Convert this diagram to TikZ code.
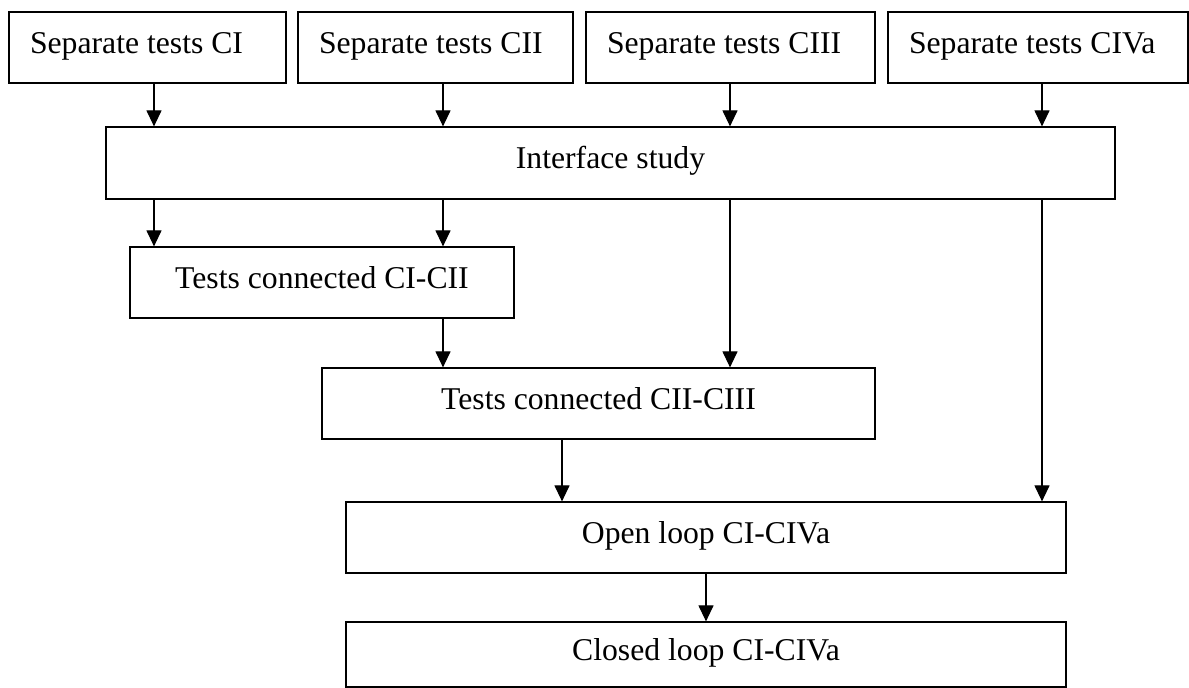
\documentclass[tikz,border=0pt]{standalone}
\usepackage{fontspec}
\setmainfont{Liberation Serif}
\usetikzlibrary{arrows.meta}

\begin{document}
\begin{tikzpicture}[
    x=0.5pt, y=-0.5pt,
    stagebox/.style={rectangle, draw, line width=0.6pt, inner sep=0pt, minimum height=35.5pt, text height=10.8pt, text depth=5.2pt, font=\fontsize{15.85}{19}\selectfont},
    testbox/.style={stagebox, align=flush left, inner xsep=10.5pt, text width=#1},
    flow/.style={-{Triangle[length=8pt, width=7.5pt]}, line width=0.6pt}
]
    \useasboundingbox (0,0) rectangle (1189,688);

    % Separate tests row
    \node[testbox=117.5pt] (sepA) at (147.5, 47.5) {Separate tests CI};
    \node[testbox=116.5pt] (sepB) at (435.5, 47.5) {Separate tests CII};
    \node[testbox=123.5pt] (sepC) at (730.5, 47.5) {Separate tests CIII};
    \node[testbox=129pt] (sepD) at (1038, 47.5) {Separate tests CIVa};

    % Interface study
    \node[stagebox, minimum width=504.5pt, minimum height=36pt] (iface) at (610.5, 163) {Interface study};

    % Connected tests
    \node[stagebox, minimum width=192pt] (conA) at (322, 282.5) {Tests connected CI-CII};
    \node[stagebox, minimum width=276.5pt] (conB) at (598.5, 403.5) {Tests connected CII-CIII};

    % Loops
    \node[stagebox, minimum width=360pt] (openloop) at (706, 537.5) {Open loop CI-CIVa};
    \node[stagebox, minimum width=360pt, minimum height=32.5pt] (closedloop) at (706, 654.5) {Closed loop CI-CIVa};

    % Arrow columns
    \coordinate (colA) at (154, 0);
    \coordinate (colB) at (443, 0);
    \coordinate (colC) at (730, 0);
    \coordinate (colD) at (1042, 0);
    \coordinate (colE) at (562, 0);
    \coordinate (colF) at (706, 0);

    % Arrows
    \foreach \s/\c in {sepA/colA, sepB/colB, sepC/colC, sepD/colD}
        \draw[flow] (\s.south -| \c) -- (iface.north -| \c);
    \draw[flow] (iface.south -| colA) -- (conA.north -| colA);
    \draw[flow] (iface.south -| colB) -- (conA.north -| colB);
    \draw[flow] (iface.south -| colC) -- (conB.north -| colC);
    \draw[flow] (iface.south -| colD) -- (openloop.north -| colD);
    \draw[flow] (conA.south -| colB) -- (conB.north -| colB);
    \draw[flow] (conB.south -| colE) -- (openloop.north -| colE);
    \draw[flow] (openloop.south -| colF) -- (closedloop.north -| colF);

\end{tikzpicture}
\end{document}
